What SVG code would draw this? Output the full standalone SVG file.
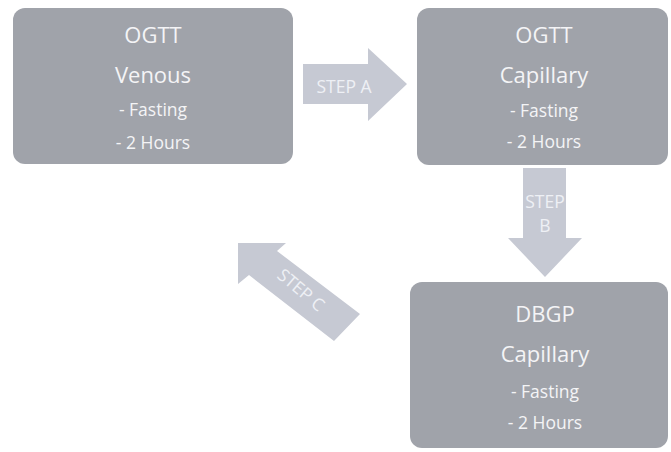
<svg xmlns="http://www.w3.org/2000/svg" width="671" height="452" viewBox="0 0 671 452">
  <style>
    .box { fill: #a0a3aa; }
    .arrow { fill: #c6c9d3; }
    .t { font-family: "Open Sans", "Liberation Sans", sans-serif; fill: #f4f4f6; text-anchor: middle; }
    .big { font-size: 22px; }
    .small { font-size: 17.5px; }
    .lbl { font-family: "Open Sans", "Liberation Sans", sans-serif; fill: #eef0f5; text-anchor: middle; font-size: 17.5px; }
  </style>
  <rect width="671" height="452" fill="#ffffff"/>
  <g id="connectors">
    <g id="stepA">
      <polygon class="arrow" points="303,64 368,64 368,48 407,84 368,121 368,104 303,104"/>
      <text class="lbl" x="344" y="93">STEP A</text>
    </g>
    <g id="stepB">
      <polygon class="arrow" points="523,168 566,168 566,238 582,238 545,277 508,238 523,238"/>
      <text class="lbl" x="545" y="208">STEP</text>
      <text class="lbl" x="545" y="232">B</text>
    </g>
    <g id="stepC">
      <polygon class="arrow" points="238,243 286,243 277,251 360,314 334,341 249,275 238,284"/>
      <text class="lbl" transform="translate(301,290) rotate(40)" x="0" y="6">STEP C</text>
    </g>
  </g>
  <g id="node-ogtt-venous">
    <rect class="box" x="13" y="8" width="280" height="156" rx="12"/>
    <text class="t big" x="153" y="43">OGTT</text>
    <text class="t big" x="153" y="83">Venous</text>
    <text class="t small" x="153" y="116">- Fasting</text>
    <text class="t small" x="153" y="149">- 2 Hours</text>
  </g>
  <g id="node-ogtt-capillary">
    <rect class="box" x="417" y="8" width="251" height="157" rx="12"/>
    <text class="t big" x="544" y="43">OGTT</text>
    <text class="t big" x="544" y="83">Capillary</text>
    <text class="t small" x="544" y="117">- Fasting</text>
    <text class="t small" x="544" y="148">- 2 Hours</text>
  </g>
  <g id="node-dbgp-capillary">
    <rect class="box" x="410" y="282" width="258" height="166" rx="12"/>
    <text class="t big" x="545" y="322">DBGP</text>
    <text class="t big" x="545" y="362">Capillary</text>
    <text class="t small" x="545" y="398">- Fasting</text>
    <text class="t small" x="545" y="429">- 2 Hours</text>
  </g>
</svg>
